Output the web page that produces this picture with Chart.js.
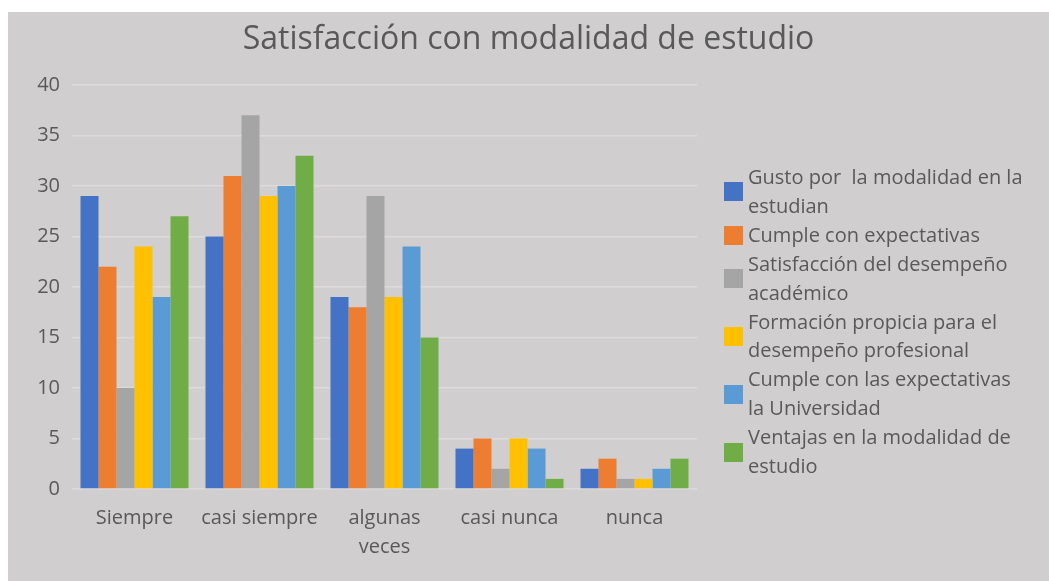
<!DOCTYPE html>
<html>
<head>
<meta charset="utf-8">
<script src="https://cdn.jsdelivr.net/npm/chart.js@4/dist/chart.umd.min.js"></script>
<style>
  body { margin:0; background:#fff; width:1049px; height:581px; overflow:hidden; font-family:"Open Sans", sans-serif; }
  #panel { position:absolute; left:8px; top:12px; width:1041px; height:569px; background:#d0cece; }
  #title { position:absolute; left:0; width:1041px; top:3px; text-align:center; font-size:32px; color:#595959; }
  #chartBox { position:absolute; left:0; top:0; width:1041px; height:569px; }
  #legend { position:absolute; left:716px; top:151px; color:#595959; font-size:20px; line-height:28.9px; white-space:pre; }
  .item { display:flex; align-items:center; }
  .box { width:19px; height:19px; margin-right:5px; flex:none; }
</style>
</head>
<body>
<div id="panel">
  <div id="chartBox"><canvas id="chart"></canvas></div>
  <div id="title">Satisfacción con modalidad de estudio</div>
  <div id="legend"></div>
</div>
<script>
/* data */
const categories = ['Siempre', 'casi siempre', ['algunas', 'veces'], 'casi nunca', 'nunca'];
const seriesNames = [
  'Gusto por  la modalidad en la estudian',
  'Cumple con expectativas',
  'Satisfacción del desempeño académico',
  'Formación propicia para el desempeño profesional',
  'Cumple con las expectativas la Universidad',
  'Ventajas en la modalidad de estudio'
];
// how the legend text wraps in the picture
const legendLines = [
  ['Gusto por  la modalidad en la', 'estudian'],
  ['Cumple con expectativas'],
  ['Satisfacción del desempeño', 'académico'],
  ['Formación propicia para el', 'desempeño profesional'],
  ['Cumple con las expectativas', 'la Universidad'],
  ['Ventajas en la modalidad de', 'estudio']
];
const gusto      = [29, 25, 19, 4, 2];
const cumple     = [22, 31, 18, 5, 3];
const satisf     = [10, 37, 29, 2, 1];
const formacion  = [24, 29, 19, 5, 1];
const cumpleUni  = [19, 30, 24, 4, 2];
const ventajas   = [27, 33, 15, 1, 3];
const yTicks = [0, 5, 10, 15, 20, 25, 30, 35, 40];

const colors = ['#4472C4', '#ED7D31', '#A5A5A5', '#FFC000', '#5B9BD5', '#70AD47'];
const allSeries = [gusto, cumple, satisf, formacion, cumpleUni, ventajas];

const ctx = document.getElementById('chart').getContext('2d');
const chart = new Chart(ctx, {
  type: 'bar',
  data: {
    labels: categories,
    datasets: allSeries.map((d, i) => ({
      label: seriesNames[i],
      data: d,
      backgroundColor: colors[i],
      categoryPercentage: 0.864,
      barPercentage: 1.0
    }))
  },
  options: {
    responsive: true,
    maintainAspectRatio: false,
    animation: false,
    layout: { padding: { top: 73, right: 352, left: 0, bottom: 0 } },
    plugins: { legend: { display: false }, title: { display: false }, tooltip: { enabled: false } },
    scales: {
      x: {
        grid: { display: false, drawTicks: false },
        border: { display: false },
        ticks: { color: '#595959', font: { family: 'Open Sans', size: 20, lineHeight: 1.45 }, padding: 15, maxRotation: 0, autoSkip: false },
        afterFit: s => { s.height = 92; }
      },
      y: {
        min: 0, max: 40,
        afterBuildTicks: s => { s.ticks = yTicks.map(v => ({ value: v })); },
        grid: { color: '#dcdada', lineWidth: 1.5, drawTicks: false },
        border: { display: false },
        ticks: { color: '#595959', font: { family: 'Open Sans', size: 20 }, padding: 12 },
        afterFit: s => { s.width = 64; }
      }
    }
  }
});

/* legend */
const legend = document.getElementById('legend');
legendLines.forEach((lines, i) => {
  const row = document.createElement('div');
  row.className = 'item';
  row.innerHTML = `<span class="box" style="background:${colors[i]}"></span><span>${lines.join('\n')}</span>`;
  legend.appendChild(row);
});
</script>
</body>
</html>
